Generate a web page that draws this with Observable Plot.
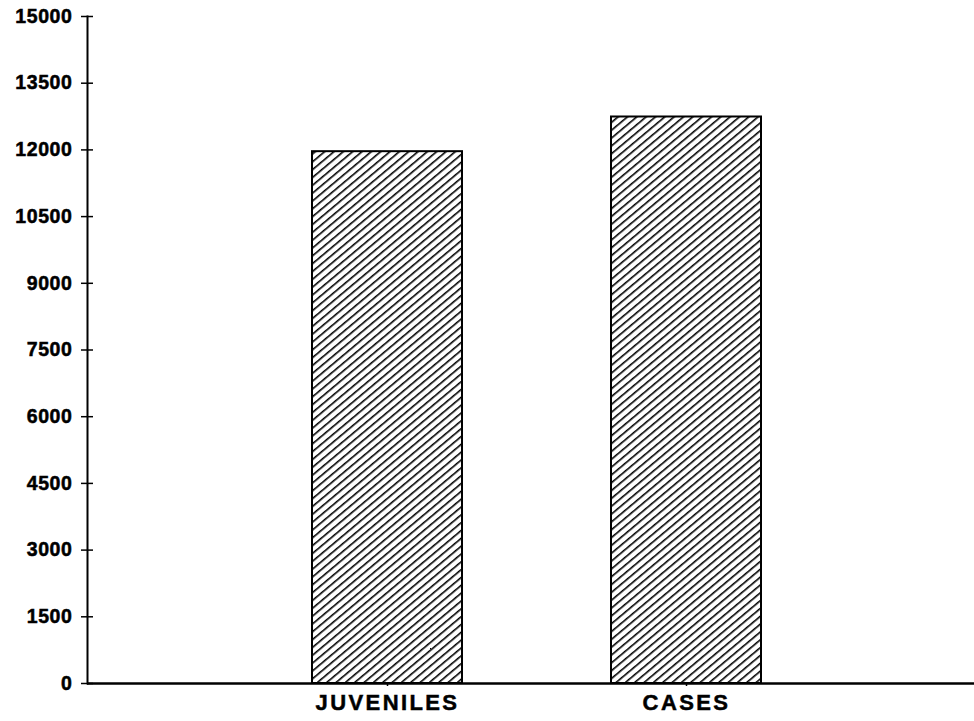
<!DOCTYPE html>
<html>
<head>
<meta charset="utf-8">
<script src="https://cdn.jsdelivr.net/npm/d3@7"></script>
<script src="https://cdn.jsdelivr.net/npm/@observablehq/plot@0.6"></script>
<style>
  html, body { margin: 0; padding: 0; background: #fff; }
  #chart svg { display: block; }
</style>
</head>
<body>
<div id="chart"></div>
<script>
const categories = ["JUVENILES", "CASES"];
const values = [11960, 12740];
const yTicks = [0, 1500, 3000, 4500, 6000, 7500, 9000, 10500, 12000, 13500, 15000];

const data = categories.map((c, i) => ({category: c, value: values[i]}));
const font = "'Liberation Sans', Arial, Helvetica, sans-serif";

const chart = Plot.plot({
  width: 974,
  height: 721,
  marginLeft: 87,
  marginRight: 0,
  marginTop: 16,
  marginBottom: 38,
  style: {fontFamily: font, background: "#fff", color: "#000"},
  x: {domain: categories, paddingInner: 0.5, paddingOuter: 0.73, align: 0.513, label: null},
  y: {domain: [0, 15000], label: null},
  marks: [
    Plot.barY(data, {x: "category", y: "value", fill: "url(#hatch)", stroke: "#000", strokeWidth: 2}),
    Plot.axisY(yTicks, {tickSize: 12, dx: 6, tickPadding: 9, fontSize: 19.5, fontWeight: "bold", stroke: "#000", strokeWidth: 1.5, label: null, tickFormat: d => String(d)}),
    Plot.axisX({tickSize: 3, tickPadding: 8, fontSize: 22, fontWeight: "bold", strokeWidth: 1.5, label: null}),
    Plot.ruleY([0], {stroke: "#000", strokeWidth: 2.5}),
    Plot.frame({anchor: "left", stroke: "#000", strokeWidth: 2})
  ]
});

const defs = d3.select(chart).insert("defs", ":first-child");
const pat = defs.append("pattern")
  .attr("id", "hatch")
  .attr("patternUnits", "userSpaceOnUse")
  .attr("width", 6)
  .attr("height", 6)
  .attr("patternTransform", "rotate(-40)");
pat.append("rect").attr("width", 6).attr("height", 6).attr("fill", "#fff");
pat.append("line").attr("x1", 0).attr("y1", 0).attr("x2", 6).attr("y2", 0)
  .attr("stroke", "#000").attr("stroke-width", 3.2);

d3.select(chart).selectAll("g[aria-label='x-axis tick label'] text")
  .style("letter-spacing", "2.4px")
  .style("stroke", "#000").style("stroke-width", "0.5px");
d3.select(chart).selectAll("g[aria-label='y-axis tick label'] text")
  .style("letter-spacing", "0.6px")
  .style("stroke", "#000").style("stroke-width", "0.5px");

document.getElementById("chart").appendChild(chart);
</script>
</body>
</html>
